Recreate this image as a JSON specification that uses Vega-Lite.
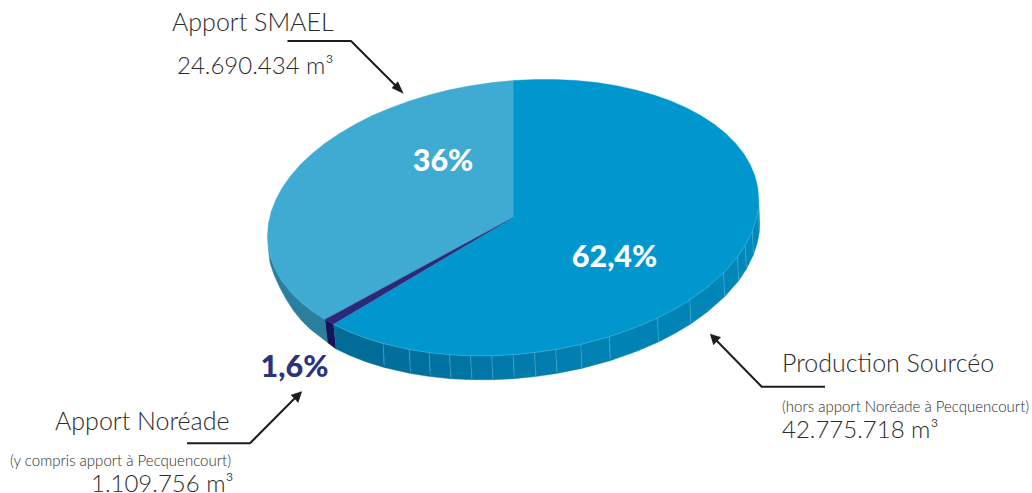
{"$schema":"https://vega.github.io/schema/vega-lite/v6.json","width":1032,"height":493,"autosize":"none","padding":0,"background":"white","view":{"stroke":null},
"datasets":{
"polys":[
{"s":"smaelSide","i":1,"x":267.5,"y":235.6},{"s":"smaelSide","i":2,"x":268.4,"y":247.5},{"s":"smaelSide","i":3,"x":271.2,"y":259.1},{"s":"smaelSide","i":4,"x":282.3,"y":281.4},{"s":"smaelSide","i":5,"x":300.4,"y":301.7},{"s":"smaelSide","i":6,"x":325.0,"y":319.5},{"s":"smaelSide","i":7,"x":327.7,"y":342.7},{"s":"smaelSide","i":8,"x":319,"y":336},{"s":"smaelSide","i":9,"x":310,"y":329},{"s":"smaelSide","i":10,"x":301,"y":320},{"s":"smaelSide","i":11,"x":293,"y":310},{"s":"smaelSide","i":12,"x":286,"y":299},{"s":"smaelSide","i":13,"x":280,"y":288},{"s":"smaelSide","i":14,"x":274,"y":275},{"s":"smaelSide","i":15,"x":270,"y":263},{"s":"smaelSide","i":16,"x":268.5,"y":250},
{"s":"noreadeSide","i":1,"x":325.0,"y":319.5},{"s":"noreadeSide","i":2,"x":333.5,"y":324.3},{"s":"noreadeSide","i":3,"x":336,"y":349},{"s":"noreadeSide","i":4,"x":327.7,"y":342.7},
{"s":"f01","i":1,"x":333.5,"y":324.3},{"s":"f01","i":2,"x":348.8,"y":331.5},{"s":"f01","i":3,"x":365.3,"y":337.9},{"s":"f01","i":4,"x":383.0,"y":343.4},{"s":"f01","i":5,"x":384.0,"y":367.4},{"s":"f01","i":6,"x":366.3,"y":361.9},{"s":"f01","i":7,"x":349.8,"y":355.5},{"s":"f01","i":8,"x":336,"y":349},
{"s":"f02","i":1,"x":383.0,"y":343.4},{"s":"f02","i":2,"x":409.3,"y":349.5},{"s":"f02","i":3,"x":410.3,"y":373.5},{"s":"f02","i":4,"x":384.0,"y":367.4},
{"s":"f03","i":1,"x":409.3,"y":349.5},{"s":"f03","i":2,"x":429.1,"y":352.6},{"s":"f03","i":3,"x":430.1,"y":376.6},{"s":"f03","i":4,"x":410.3,"y":373.5},
{"s":"f04","i":1,"x":429.1,"y":352.6},{"s":"f04","i":2,"x":449.5,"y":354.7},{"s":"f04","i":3,"x":450.5,"y":378.7},{"s":"f04","i":4,"x":430.1,"y":376.6},
{"s":"f05","i":1,"x":449.5,"y":354.7},{"s":"f05","i":2,"x":470.5,"y":355.7},{"s":"f05","i":3,"x":471.5,"y":379.7},{"s":"f05","i":4,"x":450.5,"y":378.7},
{"s":"f06","i":1,"x":470.5,"y":355.7},{"s":"f06","i":2,"x":491.7,"y":355.8},{"s":"f06","i":3,"x":492.7,"y":379.8},{"s":"f06","i":4,"x":471.5,"y":379.7},
{"s":"f07","i":1,"x":491.7,"y":355.8},{"s":"f07","i":2,"x":513.1,"y":354.7},{"s":"f07","i":3,"x":514.1,"y":378.7},{"s":"f07","i":4,"x":492.7,"y":379.8},
{"s":"f08","i":1,"x":513.1,"y":354.7},{"s":"f08","i":2,"x":534.5,"y":352.6},{"s":"f08","i":3,"x":535.5,"y":376.6},{"s":"f08","i":4,"x":514.1,"y":378.7},
{"s":"f09","i":1,"x":534.5,"y":352.6},{"s":"f09","i":2,"x":555.7,"y":349.5},{"s":"f09","i":3,"x":556.7,"y":373.5},{"s":"f09","i":4,"x":535.5,"y":376.6},
{"s":"f10","i":1,"x":555.7,"y":349.5},{"s":"f10","i":2,"x":580.8,"y":344.4},{"s":"f10","i":3,"x":581.8,"y":368.4},{"s":"f10","i":4,"x":556.7,"y":373.5},
{"s":"f11","i":1,"x":580.8,"y":344.4},{"s":"f11","i":2,"x":609.1,"y":336.8},{"s":"f11","i":3,"x":610.1,"y":360.8},{"s":"f11","i":4,"x":581.8,"y":368.4},
{"s":"f12","i":1,"x":609.1,"y":336.8},{"s":"f12","i":2,"x":635.9,"y":327.3},{"s":"f12","i":3,"x":657.5,"y":317.9},{"s":"f12","i":4,"x":658.5,"y":341.9},{"s":"f12","i":5,"x":636.9,"y":351.3},{"s":"f12","i":6,"x":610.1,"y":360.8},
{"s":"f13","i":1,"x":657.5,"y":317.9},{"s":"f13","i":2,"x":674.2,"y":309.3},{"s":"f13","i":3,"x":689.8,"y":299.9},{"s":"f13","i":4,"x":690.8,"y":323.9},{"s":"f13","i":5,"x":675.2,"y":333.3},{"s":"f13","i":6,"x":658.5,"y":341.9},
{"s":"f14","i":1,"x":689.8,"y":299.9},{"s":"f14","i":2,"x":706.6,"y":287.8},{"s":"f14","i":3,"x":723.6,"y":272.8},{"s":"f14","i":4,"x":724.6,"y":296.8},{"s":"f14","i":5,"x":707.6,"y":311.8},{"s":"f14","i":6,"x":690.8,"y":323.9},
{"s":"f15","i":1,"x":723.6,"y":272.8},{"s":"f15","i":2,"x":737.5,"y":256.9},{"s":"f15","i":3,"x":738.5,"y":280.9},{"s":"f15","i":4,"x":724.6,"y":296.8},
{"s":"f16","i":1,"x":737.5,"y":256.9},{"s":"f16","i":2,"x":745.3,"y":245.2},{"s":"f16","i":3,"x":746.3,"y":269.2},{"s":"f16","i":4,"x":738.5,"y":280.9},
{"s":"f17","i":1,"x":745.3,"y":245.2},{"s":"f17","i":2,"x":752.4,"y":230.9},{"s":"f17","i":3,"x":753.4,"y":254.9},{"s":"f17","i":4,"x":746.3,"y":269.2},
{"s":"f18","i":1,"x":752.4,"y":230.9},{"s":"f18","i":2,"x":756.3,"y":218.9},{"s":"f18","i":3,"x":758.1,"y":209.2},{"s":"f18","i":4,"x":759.1,"y":233.2},{"s":"f18","i":5,"x":757.3,"y":242.9},{"s":"f18","i":6,"x":753.4,"y":254.9},
{"s":"f19","i":1,"x":758.1,"y":209.2},{"s":"f19","i":2,"x":758.7,"y":199.6},{"s":"f19","i":3,"x":759.7,"y":223.6},{"s":"f19","i":4,"x":759.1,"y":233.2},
{"s":"production","i":1,"x":513.1,"y":217.6},{"s":"production","i":2,"x":333.5,"y":324.3},{"s":"production","i":3,"x":348.8,"y":331.5},{"s":"production","i":4,"x":365.3,"y":337.9},{"s":"production","i":5,"x":383.0,"y":343.4},{"s":"production","i":6,"x":409.3,"y":349.5},{"s":"production","i":7,"x":429.1,"y":352.6},{"s":"production","i":8,"x":449.5,"y":354.7},{"s":"production","i":9,"x":470.5,"y":355.7},{"s":"production","i":10,"x":491.7,"y":355.8},{"s":"production","i":11,"x":513.1,"y":354.7},{"s":"production","i":12,"x":534.5,"y":352.6},{"s":"production","i":13,"x":555.7,"y":349.5},{"s":"production","i":14,"x":580.8,"y":344.4},{"s":"production","i":15,"x":609.1,"y":336.8},{"s":"production","i":16,"x":635.9,"y":327.3},{"s":"production","i":17,"x":657.5,"y":317.9},{"s":"production","i":18,"x":674.2,"y":309.3},{"s":"production","i":19,"x":689.8,"y":299.9},{"s":"production","i":20,"x":706.6,"y":287.8},{"s":"production","i":21,"x":723.6,"y":272.8},{"s":"production","i":22,"x":737.5,"y":256.9},{"s":"production","i":23,"x":745.3,"y":245.2},{"s":"production","i":24,"x":752.4,"y":230.9},{"s":"production","i":25,"x":756.3,"y":218.9},{"s":"production","i":26,"x":758.1,"y":209.2},{"s":"production","i":27,"x":758.7,"y":199.6},{"s":"production","i":28,"x":757.8,"y":187.7},{"s":"production","i":29,"x":755.0,"y":176.1},{"s":"production","i":30,"x":750.3,"y":164.7},{"s":"production","i":31,"x":743.9,"y":153.8},{"s":"production","i":32,"x":735.7,"y":143.4},{"s":"production","i":33,"x":725.8,"y":133.5},{"s":"production","i":34,"x":714.3,"y":124.2},{"s":"production","i":35,"x":701.2,"y":115.7},{"s":"production","i":36,"x":686.8,"y":107.9},{"s":"production","i":37,"x":671.0,"y":101.0},{"s":"production","i":38,"x":654.0,"y":95.0},{"s":"production","i":39,"x":635.9,"y":89.9},{"s":"production","i":40,"x":616.9,"y":85.7},{"s":"production","i":41,"x":597.1,"y":82.6},{"s":"production","i":42,"x":576.7,"y":80.5},{"s":"production","i":43,"x":555.7,"y":79.5},{"s":"production","i":44,"x":534.5,"y":79.5},{"s":"production","i":45,"x":513.1,"y":80.5},
{"s":"smael","i":1,"x":513.1,"y":217.6},{"s":"smael","i":2,"x":513.1,"y":80.5},{"s":"smael","i":3,"x":491.7,"y":82.6},{"s":"smael","i":4,"x":470.5,"y":85.7},{"s":"smael","i":5,"x":449.5,"y":89.8},{"s":"smael","i":6,"x":429.1,"y":94.9},{"s":"smael","i":7,"x":409.3,"y":101.0},{"s":"smael","i":8,"x":390.3,"y":107.9},{"s":"smael","i":9,"x":372.2,"y":115.6},{"s":"smael","i":10,"x":355.2,"y":124.2},{"s":"smael","i":11,"x":339.4,"y":133.4},{"s":"smael","i":12,"x":325.0,"y":143.3},{"s":"smael","i":13,"x":311.9,"y":153.7},{"s":"smael","i":14,"x":300.4,"y":164.6},{"s":"smael","i":15,"x":290.5,"y":176.0},{"s":"smael","i":16,"x":282.3,"y":187.6},{"s":"smael","i":17,"x":275.9,"y":199.5},{"s":"smael","i":18,"x":271.2,"y":211.5},{"s":"smael","i":19,"x":268.4,"y":223.6},{"s":"smael","i":20,"x":267.5,"y":235.6},{"s":"smael","i":21,"x":268.4,"y":247.5},{"s":"smael","i":22,"x":271.2,"y":259.1},{"s":"smael","i":23,"x":275.9,"y":270.5},{"s":"smael","i":24,"x":282.3,"y":281.4},{"s":"smael","i":25,"x":290.5,"y":291.9},{"s":"smael","i":26,"x":300.4,"y":301.7},{"s":"smael","i":27,"x":311.9,"y":311.0},{"s":"smael","i":28,"x":325.0,"y":319.5},
{"s":"noreade","i":1,"x":513.1,"y":217.6},{"s":"noreade","i":2,"x":325.0,"y":319.5},{"s":"noreade","i":3,"x":333.5,"y":324.3},
{"s":"head","i":1,"x":403.5,"y":93.5},{"s":"head","i":2,"x":392,"y":88},{"s":"head","i":3,"x":394.5,"y":85},{"s":"head","i":4,"x":398,"y":81.5},
{"s":"head2","i":1,"x":302,"y":391.5},{"s":"head2","i":2,"x":291,"y":395},{"s":"head2","i":3,"x":294.5,"y":398.5},{"s":"head2","i":4,"x":298.3,"y":402.7},
{"s":"head3","i":1,"x":710,"y":334},{"s":"head3","i":2,"x":720.7,"y":337.3},{"s":"head3","i":3,"x":717,"y":341},{"s":"head3","i":4,"x":713.3,"y":345}
],
"rims":[
{"s":"r","i":1,"x":333.5,"y":324.3},{"s":"r","i":2,"x":348.8,"y":331.5},{"s":"r","i":3,"x":365.3,"y":337.9},{"s":"r","i":4,"x":383.0,"y":343.4},{"s":"r","i":5,"x":409.3,"y":349.5},{"s":"r","i":6,"x":429.1,"y":352.6},{"s":"r","i":7,"x":449.5,"y":354.7},{"s":"r","i":8,"x":470.5,"y":355.7},{"s":"r","i":9,"x":491.7,"y":355.8},{"s":"r","i":10,"x":513.1,"y":354.7},{"s":"r","i":11,"x":534.5,"y":352.6},{"s":"r","i":12,"x":555.7,"y":349.5},{"s":"r","i":13,"x":580.8,"y":344.4},{"s":"r","i":14,"x":609.1,"y":336.8},{"s":"r","i":15,"x":635.9,"y":327.3},{"s":"r","i":16,"x":657.5,"y":317.9},{"s":"r","i":17,"x":674.2,"y":309.3},{"s":"r","i":18,"x":689.8,"y":299.9},{"s":"r","i":19,"x":706.6,"y":287.8},{"s":"r","i":20,"x":723.6,"y":272.8},{"s":"r","i":21,"x":737.5,"y":256.9},{"s":"r","i":22,"x":745.3,"y":245.2},{"s":"r","i":23,"x":752.4,"y":230.9},{"s":"r","i":24,"x":756.3,"y":218.9},{"s":"r","i":25,"x":758.1,"y":209.2},
{"s":"t","i":1,"x":268.4,"y":247.5},{"s":"t","i":2,"x":271.2,"y":259.1},{"s":"t","i":3,"x":275.9,"y":270.5},{"s":"t","i":4,"x":282.3,"y":281.4},{"s":"t","i":5,"x":290.5,"y":291.9},{"s":"t","i":6,"x":300.4,"y":301.7},{"s":"t","i":7,"x":311.9,"y":311.0},{"s":"t","i":8,"x":325.0,"y":319.5},
{"s":"a","i":1,"x":383.0,"y":343.4},{"s":"a","i":2,"x":384.5,"y":365.5},{"s":"b","i":1,"x":409.3,"y":349.5},{"s":"b","i":2,"x":410.5,"y":372},{"s":"c","i":1,"x":429.1,"y":352.6},{"s":"c","i":2,"x":430.5,"y":375},{"s":"d","i":1,"x":449.5,"y":354.7},{"s":"d","i":2,"x":451,"y":377},{"s":"e","i":1,"x":470.5,"y":355.7},{"s":"e","i":2,"x":472,"y":378},{"s":"g","i":1,"x":491.7,"y":355.8},{"s":"g","i":2,"x":493,"y":378},{"s":"h","i":1,"x":513.1,"y":354.7},{"s":"h","i":2,"x":514.5,"y":377},{"s":"j","i":1,"x":534.5,"y":352.6},{"s":"j","i":2,"x":536,"y":375},{"s":"k","i":1,"x":555.7,"y":349.5},{"s":"k","i":2,"x":557,"y":372},{"s":"l","i":1,"x":580.8,"y":344.4},{"s":"l","i":2,"x":582,"y":367},{"s":"m","i":1,"x":609.1,"y":336.8},{"s":"m","i":2,"x":610.5,"y":359},{"s":"n","i":1,"x":657.5,"y":317.9},{"s":"n","i":2,"x":658.5,"y":340},{"s":"o","i":1,"x":689.8,"y":299.9},{"s":"o","i":2,"x":690.8,"y":322},{"s":"p","i":1,"x":723.6,"y":272.8},{"s":"p","i":2,"x":724.6,"y":295},{"s":"q","i":1,"x":737.5,"y":256.9},{"s":"q","i":2,"x":738.5,"y":279},{"s":"u","i":1,"x":745.3,"y":245.2},{"s":"u","i":2,"x":746.3,"y":267},{"s":"v","i":1,"x":752.4,"y":230.9},{"s":"v","i":2,"x":753.4,"y":253}
],
"arrows":[
{"s":"A","i":1,"x":287.5,"y":41},{"s":"A","i":2,"x":351,"y":41},{"s":"A","i":3,"x":397,"y":87},
{"s":"B","i":1,"x":187,"y":443.3},{"s":"B","i":2,"x":250,"y":443.3},{"s":"B","i":3,"x":296,"y":397},
{"s":"C","i":1,"x":825,"y":386.7},{"s":"C","i":2,"x":761.7,"y":386.7},{"s":"C","i":3,"x":716,"y":340}
],
"labels":[
{"role":"big","t":"Apport SMAEL","x":172,"y":31},
{"role":"val","t":"24.690.434 m³","x":177,"y":74},
{"role":"big","t":"Apport Noréade","x":55,"y":430},
{"role":"val","t":"1.109.756 m³","x":91,"y":492},
{"role":"big","t":"Production Sourcéo","x":782,"y":372},
{"role":"val","t":"42.775.718 m³","x":782,"y":438},
{"role":"small","t":"(y compris apport à Pecquencourt)","x":10,"y":466},
{"role":"small","t":"(hors apport Noréade à Pecquencourt)","x":782,"y":411.5},
{"role":"pct","t":"36%","x":443,"y":171},
{"role":"pct","t":"62,4%","x":614.5,"y":267},
{"role":"pctN","t":"1,6%","x":294.5,"y":377}
]},
"encoding":{
"x":{"field":"x","type":"quantitative","scale":{"domain":[0,1032],"nice":false,"zero":false},"axis":null},
"y":{"field":"y","type":"quantitative","scale":{"domain":[0,493],"nice":false,"zero":false,"reverse":true},"axis":null}},
"layer":[
{"data":{"name":"polys"},"mark":{"type":"line","strokeWidth":0.4,"clip":false},
"encoding":{"order":{"field":"i","type":"quantitative"},
"fill":{"field":"s","type":"nominal","legend":null,"scale":{"domain":["smaelSide","noreadeSide","f01","f02","f03","f04","f05","f06","f07","f08","f09","f10","f11","f12","f13","f14","f15","f16","f17","f18","f19","production","smael","noreade","head","head2","head3"],"range":["#2A7F9F","#14145A","#006C97","#006F9B","#00719E","#0073A1","#0075A3","#0077A6","#0079A8","#007BAB","#007DAD","#007FB0","#0081B2","#0083B4","#0084B6","#0086B8","#0087B9","#0088BA","#0089BB","#0089BC","#008ABC","#0097CF","#40ABD2","#2A2A78","#1D1D1B","#1D1D1B","#1D1D1B"]}},
"stroke":{"field":"s","type":"nominal","legend":null,"scale":{"domain":["smaelSide","noreadeSide","f01","f02","f03","f04","f05","f06","f07","f08","f09","f10","f11","f12","f13","f14","f15","f16","f17","f18","f19","production","smael","noreade","head","head2","head3"],"range":["#2A7F9F","#14145A","#006C97","#006F9B","#00719E","#0073A1","#0075A3","#0077A6","#0079A8","#007BAB","#007DAD","#007FB0","#0081B2","#0083B4","#0084B6","#0086B8","#0087B9","#0088BA","#0089BB","#0089BC","#008ABC","#0097CF","#40ABD2","#2A2A78","#1D1D1B","#1D1D1B","#1D1D1B"]}}}},
{"data":{"name":"rims"},"mark":{"type":"line","stroke":"#5DB4D8","strokeWidth":0.6,"strokeOpacity":0.75},
"encoding":{"detail":{"field":"s"},"order":{"field":"i","type":"quantitative"}}},
{"data":{"name":"arrows"},"mark":{"type":"line","stroke":"#1D1D1B","strokeWidth":2,"strokeJoin":"miter"},
"encoding":{"detail":{"field":"s"},"order":{"field":"i","type":"quantitative"}}},
{"data":{"name":"labels"},"transform":[{"filter":"datum.role==='big'"}],"mark":{"type":"text","font":"Lato","fontWeight":300,"fontSize":25,"align":"left","baseline":"alphabetic","color":"#2B2B2B"},"encoding":{"text":{"field":"t"}}},
{"data":{"name":"labels"},"transform":[{"filter":"datum.role==='val'"}],"mark":{"type":"text","font":"Lato","fontWeight":300,"fontSize":24,"align":"left","baseline":"alphabetic","color":"#2B2B2B"},"encoding":{"text":{"field":"t"}}},
{"data":{"name":"labels"},"transform":[{"filter":"datum.role==='small'"}],"mark":{"type":"text","font":"Lato","fontWeight":300,"fontSize":15,"align":"left","baseline":"alphabetic","color":"#2B2B2B"},"encoding":{"text":{"field":"t"}}},
{"data":{"name":"labels"},"transform":[{"filter":"datum.role==='pct'"}],"mark":{"type":"text","font":"Lato","fontWeight":900,"fontSize":30.5,"align":"center","baseline":"alphabetic","color":"white"},"encoding":{"text":{"field":"t"}}},
{"data":{"name":"labels"},"transform":[{"filter":"datum.role==='pctN'"}],"mark":{"type":"text","font":"Lato","fontWeight":900,"fontSize":30.5,"align":"center","baseline":"alphabetic","color":"#2B3280"},"encoding":{"text":{"field":"t"}}}
]}
